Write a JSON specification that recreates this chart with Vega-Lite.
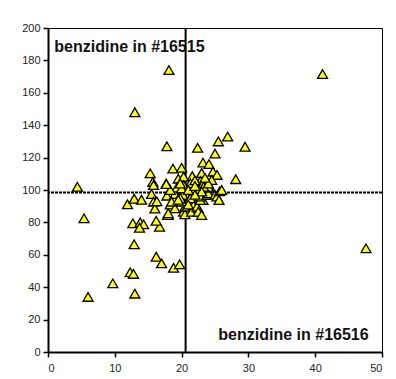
{
  "$schema": "https://vega.github.io/schema/vega-lite/v6.json",
  "width": 334,
  "height": 324,
  "autosize": {"type": "none"},
  "padding": {"left": 48, "top": 28, "right": 14, "bottom": 27},
  "background": "white",
  "config": {
    "view": {"stroke": "#000", "strokeWidth": 1},
    "axis": {
      "grid": false,
      "domainColor": "#000",
      "domainWidth": 2,
      "tickColor": "#000",
      "tickWidth": 1.5,
      "tickSize": 5,
      "labelFont": "Liberation Sans",
      "labelFontSize": 11,
      "labelColor": "#222",
      "labelOverlap": false,
      "title": null
    }
  },
  "datasets": {
    "pts": [
      {"x": 4.4, "y": 102}, {"x": 5.4, "y": 82.5}, {"x": 6.0, "y": 34}, {"x": 9.7, "y": 42.4},
      {"x": 12.3, "y": 49.2}, {"x": 12.8, "y": 48.2}, {"x": 13.0, "y": 36}, {"x": 12.9, "y": 66.5},
      {"x": 12.7, "y": 79.4}, {"x": 13.8, "y": 80}, {"x": 14.3, "y": 78.8}, {"x": 13.7, "y": 76.7},
      {"x": 16.7, "y": 77.3}, {"x": 16.2, "y": 81}, {"x": 18.0, "y": 84.5}, {"x": 11.9, "y": 91.2},
      {"x": 12.9, "y": 94.6}, {"x": 14.0, "y": 94}, {"x": 16.2, "y": 58.8}, {"x": 17.0, "y": 54.7},
      {"x": 18.8, "y": 52}, {"x": 19.7, "y": 54.1}, {"x": 47.6, "y": 64}, {"x": 41.1, "y": 171.6},
      {"x": 18.1, "y": 174}, {"x": 13.0, "y": 148}, {"x": 17.8, "y": 127}, {"x": 22.4, "y": 126},
      {"x": 25.5, "y": 130}, {"x": 26.9, "y": 133}, {"x": 29.5, "y": 126.7}, {"x": 25.0, "y": 122.5},
      {"x": 23.2, "y": 116.9}, {"x": 24.1, "y": 116}, {"x": 28.1, "y": 106.7},
      {"x": 15.3, "y": 110.3}, {"x": 15.7, "y": 105}, {"x": 17.7, "y": 104}, {"x": 18.7, "y": 113.2},
      {"x": 20.0, "y": 113.7}, {"x": 19.5, "y": 107}, {"x": 20.3, "y": 108.2}, {"x": 21.6, "y": 108.5},
      {"x": 23.0, "y": 110.5}, {"x": 24.7, "y": 111.3}, {"x": 25.3, "y": 109.3}, {"x": 24.5, "y": 106.2},
      {"x": 22.8, "y": 105.5}, {"x": 21.3, "y": 104.1}, {"x": 23.2, "y": 104}, {"x": 15.8, "y": 103},
      {"x": 15.5, "y": 97.5}, {"x": 15.8, "y": 92.8}, {"x": 16.0, "y": 88.5}, {"x": 16.3, "y": 93},
      {"x": 17.8, "y": 96.5}, {"x": 18.3, "y": 91}, {"x": 19.0, "y": 88.7}, {"x": 19.2, "y": 98},
      {"x": 19.0, "y": 97.5}, {"x": 20.0, "y": 98}, {"x": 20.2, "y": 97}, {"x": 21.3, "y": 95},
      {"x": 20.3, "y": 86.6}, {"x": 20.5, "y": 85}, {"x": 20.5, "y": 89.7}, {"x": 20.8, "y": 89.7},
      {"x": 21.5, "y": 86.6}, {"x": 21.8, "y": 90.7}, {"x": 22.5, "y": 88.7}, {"x": 22.3, "y": 89.7},
      {"x": 22.5, "y": 86.6}, {"x": 23.0, "y": 84.6}, {"x": 23.2, "y": 93.8}, {"x": 22.8, "y": 93.8},
      {"x": 22.8, "y": 95.9}, {"x": 23.8, "y": 96.9}, {"x": 24.0, "y": 97.9}, {"x": 25.0, "y": 97},
      {"x": 25.3, "y": 96}, {"x": 25.6, "y": 93.8}, {"x": 25.7, "y": 99.2}, {"x": 24.3, "y": 101.4},
      {"x": 26.0, "y": 100}, {"x": 24.0, "y": 102}, {"x": 23.3, "y": 102}, {"x": 22.6, "y": 100},
      {"x": 23.0, "y": 99}, {"x": 21.8, "y": 99}, {"x": 20.5, "y": 102}, {"x": 20.3, "y": 103},
      {"x": 19.3, "y": 101.5}, {"x": 18.3, "y": 100}, {"x": 20.0, "y": 101}, {"x": 18.5, "y": 92.8},
      {"x": 20.0, "y": 92.8}, {"x": 21.3, "y": 94.9}, {"x": 17.9, "y": 84.6}, {"x": 18.0, "y": 85.6},
      {"x": 17.7, "y": 103.7}, {"x": 22.0, "y": 106}, {"x": 19.8, "y": 95}, {"x": 21.0, "y": 91},
      {"x": 19.5, "y": 94}, {"x": 22.0, "y": 97}, {"x": 24.0, "y": 104}, {"x": 21.0, "y": 100},
      {"x": 19.8, "y": 104}, {"x": 23.5, "y": 107.5}, {"x": 22.0, "y": 102.5}
    ],
    "vline": [{"x": 20.6}],
    "hline": [{"y": 98.5}],
    "labels": [
      {"x": 0.94, "y": 185.4, "text": "benzidine in #16515"},
      {"x": 25.5, "y": 7.4, "text": "benzidine in #16516"}
    ]
  },
  "layer": [
    {
      "data": {"name": "vline"},
      "mark": {"type": "rule", "color": "#000", "strokeWidth": 2},
      "encoding": {"x": {"field": "x", "type": "quantitative"}}
    },
    {
      "data": {"name": "hline"},
      "mark": {"type": "rule", "color": "#000", "strokeWidth": 2, "strokeDash": [3, 1]},
      "encoding": {"y": {"field": "y", "type": "quantitative"}}
    },
    {
      "data": {"name": "pts"},
      "mark": {"type": "point", "shape": "triangle-up", "filled": true, "fill": "#FFFF00", "stroke": "#000", "strokeWidth": 1.3, "size": 100, "opacity": 1},
      "encoding": {
        "x": {"field": "x", "type": "quantitative", "scale": {"domain": [0, 50], "nice": false}, "axis": {"values": [0, 10, 20, 30, 40, 50], "labelPadding": 5, "labelOverlap": false}},
        "y": {"field": "y", "type": "quantitative", "scale": {"domain": [0, 200], "nice": false}, "axis": {"values": [0, 20, 40, 60, 80, 100, 120, 140, 160, 180, 200], "labelPadding": 3, "labelOverlap": false, "tickCount": 11}}
      }
    },
    {
      "data": {"name": "labels"},
      "mark": {"type": "text", "align": "left", "baseline": "alphabetic", "font": "Liberation Sans", "fontWeight": "bold", "fontSize": 16, "color": "#111"},
      "encoding": {
        "x": {"field": "x", "type": "quantitative"},
        "y": {"field": "y", "type": "quantitative"},
        "text": {"field": "text"}
      }
    }
  ]
}
